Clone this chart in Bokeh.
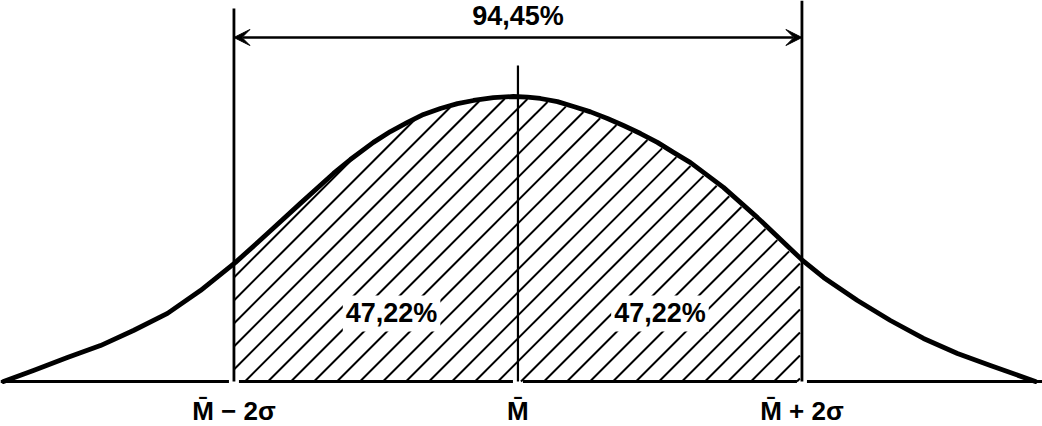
import numpy as np
from bokeh.plotting import figure
from bokeh.models import Range1d, Arrow, VeeHead, Label
from bokeh.core.properties import value
from bokeh.embed import file_html
from bokeh.resources import INLINE

# ---- data (x in units of sigma from the mean, y as height relative to the peak) ----
curve_x = [-3.623, -3.412, -3.173, -2.940, -2.708, -2.468, -2.236, -1.989, -1.764,
           -1.532, -1.299, -1.180, -1.018, -0.898, -0.778, -0.665, -0.546, -0.426,
           -0.313, -0.173, -0.032, 0.067, 0.158, 0.278, 0.391, 0.511, 0.630, 0.743,
           0.863, 0.982, 1.095, 1.215, 1.447, 1.687, 2.004, 2.152, 2.391,
           2.623, 2.856, 3.095, 3.327, 3.644]
curve_y = [0.000, 0.039, 0.084, 0.126, 0.179, 0.239, 0.319, 0.418, 0.519,
           0.625, 0.730, 0.779, 0.839, 0.877, 0.909, 0.937, 0.958, 0.975,
           0.986, 0.996, 1.000, 0.998, 0.993, 0.982, 0.965, 0.946, 0.923, 0.898,
           0.870, 0.839, 0.804, 0.768, 0.681, 0.575, 0.425, 0.365, 0.284,
           0.214, 0.151, 0.098, 0.056, 0.000]
marker_x = [-2, 0, 2]
marker_labels = ["M\u0304 \u2212 2\u03c3", "M\u0304", "M\u0304 + 2\u03c3"]
total_label = "94,45%"
half_labels = ["47,22%", "47,22%"]

FONT = "Liberation Sans"
W, H = 1042, 426
X0, X1 = -3.644, 3.694
Y0, Y1 = -0.1579, 1.3368

p = figure(width=W, height=H, x_range=Range1d(X0, X1), y_range=Range1d(Y0, Y1),
           output_backend="svg", toolbar_location=None, min_border=0,
           x_axis_location=None, y_axis_location=None)
p.grid.visible = False
p.outline_line_color = None
p.background_fill_color = "white"
p.border_fill_color = "white"

cx = np.array(curve_x)
cy = np.array(curve_y)
lo, mid, hi = marker_x

# ---- 45-degree hatching under the curve between -2σ and +2σ ----
sx = W / (X1 - X0)          # px per sigma
sy = H / (Y1 - Y0)          # px per unit height
k = sx / sy                  # slope (data units) of a 45° line on screen
spacing = 23 / sx
phase = lo + 11 / sx
h_x0, h_y0, h_x1, h_y1 = [], [], [], []
n_min = int(np.floor(-(np.interp(lo, cx, cy) / k + 11 / sx) / spacing)) - 1
c = phase + n_min * spacing
while c < hi:
    xs0 = max(c, lo)
    ys0 = k * (xs0 - c)
    if ys0 < np.interp(xs0, cx, cy):
        xs = np.linspace(xs0, hi, 2000)
        f = np.interp(xs, cx, cy) - k * (xs - c)
        idx = np.where(f <= 0)[0]
        xe = xs[idx[0]] if len(idx) else hi
        xe -= 2.0 / sx  # small gap under the curve
        if xe > xs0:
            h_x0.append(xs0); h_y0.append(ys0)
            h_x1.append(xe); h_y1.append(k * (xe - c))
    c += spacing
p.segment(x0=h_x0, y0=h_y0, x1=h_x1, y1=h_y1, line_color="black", line_width=2)

# baseline (broken at the vertical lines)
gap = 5 / sx
p.segment(x0=[X0, lo + gap, mid + gap, hi + gap],
          y0=[0, 0, 0, 0],
          x1=[lo - gap, mid - gap, hi - gap, X1],
          y1=[0, 0, 0, 0], line_color="black", line_width=3)

# vertical lines
p.segment(x0=[lo, hi], y0=[0, 0], x1=[lo, hi], y1=[Y1 - 8 / sy, Y1],
          line_color="black", line_width=2.8)
p.segment(x0=[mid], y0=[0], x1=[mid], y1=[1.109],
          line_color="black", line_width=2.2)

# the curve
p.line(cx, cy, line_color="black", line_width=4.8, line_join="round", line_cap="round")

# double arrow
p.add_layout(Arrow(x_start=lo, y_start=1.207, x_end=hi, y_end=1.207,
                   line_color="black", line_width=2.5,
                   start=VeeHead(size=16, fill_color="black", line_color="black", line_width=1),
                   end=VeeHead(size=16, fill_color="black", line_color="black", line_width=1)))

p.text(x=[(lo + hi) / 2], y=[1.284], text=[total_label], text_font=value(FONT),
       text_font_size="27px", text_font_style="bold", text_align="center",
       text_baseline="middle", text_color="black")

# percent labels inside the hatched halves
for xx, t in zip([-0.89, 1.0], half_labels):
    p.add_layout(Label(x=xx, y=0.239, text=t, text_font=FONT, text_font_size="27px",
                       text_font_style="bold",
                       text_align="center", text_baseline="middle", text_color="black",
                       background_fill_color="white", background_fill_alpha=1.0,
                       padding=3))

# axis-like labels
p.text(x=marker_x, y=[-0.1018] * 3, text=marker_labels, text_font=value(FONT),
       text_font_size="26px", text_font_style="bold", text_align="center",
       text_baseline="middle", text_color="black")

open("out.html", "w").write(file_html(p, INLINE))
